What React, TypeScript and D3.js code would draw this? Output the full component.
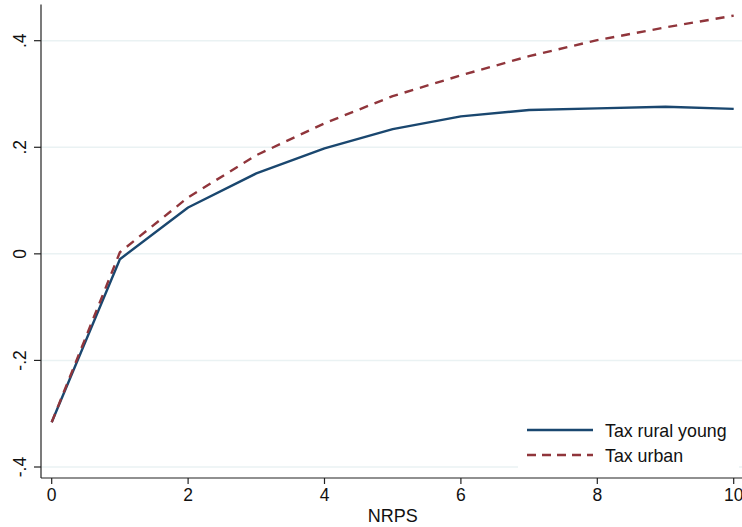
import React, { useRef, useEffect } from "react";
import * as d3 from "d3";

const nrps = [0, 1, 2, 3, 4, 5, 6, 7, 8, 9, 10];
const taxRuralYoung = [-0.316, -0.01, 0.087, 0.151, 0.198, 0.234, 0.258, 0.27, 0.273, 0.276, 0.272];
const taxUrban = [-0.316, 0.003, 0.106, 0.185, 0.245, 0.296, 0.335, 0.371, 0.401, 0.425, 0.447];
const xTicks = [0, 2, 4, 6, 8, 10];
const yTicks = [-0.4, -0.2, 0, 0.2, 0.4];
const yTickLabels = ["-.4", "-.2", "0", ".2", ".4"];

const series = [
  { name: "Tax rural young", values: taxRuralYoung, color: "#1a476f", dash: null },
  { name: "Tax urban", values: taxUrban, color: "#90353b", dash: "9,7" },
];

const W = 742;
const H = 527;
const FONT = "'Liberation Sans', Arial, sans-serif";

const App = () => {
  const ref = useRef<SVGSVGElement>(null);

  useEffect(() => {
    document.body.style.margin = "0";
    const svg = d3.select(ref.current);
    svg.selectAll("*").remove();

    const axisLeftX = 41;
    const axisBottomY = 478;
    const x = d3.scaleLinear().domain([0, 10]).range([51.7, 733.7]);
    const y = d3.scaleLinear().domain([-0.4, 0.4]).range([467, 40.7]);

    svg.append("rect").attr("width", W).attr("height", H).attr("fill", "#fff");

    // gridlines
    svg
      .selectAll(".grid")
      .data(yTicks)
      .enter()
      .append("line")
      .attr("x1", axisLeftX)
      .attr("x2", W)
      .attr("y1", (d) => y(d))
      .attr("y2", (d) => y(d))
      .attr("stroke", "#eaf2f3")
      .attr("stroke-width", 1.5);

    // lines
    const line = d3
      .line<number>()
      .x((_, i) => x(nrps[i]))
      .y((d) => y(d));

    series.forEach((s) => {
      svg
        .append("path")
        .datum(s.values)
        .attr("d", line)
        .attr("fill", "none")
        .attr("stroke", s.color)
        .attr("stroke-width", 2.4)
        .attr("stroke-dasharray", s.dash)
        .attr("stroke-linejoin", "round");
    });

    // axes
    svg
      .append("line")
      .attr("x1", axisLeftX)
      .attr("x2", axisLeftX)
      .attr("y1", 4.5)
      .attr("y2", axisBottomY)
      .attr("stroke", "#222")
      .attr("stroke-width", 1.2);
    svg
      .append("line")
      .attr("x1", axisLeftX)
      .attr("x2", W)
      .attr("y1", axisBottomY)
      .attr("y2", axisBottomY)
      .attr("stroke", "#222")
      .attr("stroke-width", 1.2);

    // y ticks
    const yt = svg.selectAll(".yt").data(yTicks).enter().append("g");
    yt.append("line")
      .attr("x1", axisLeftX - 7)
      .attr("x2", axisLeftX)
      .attr("y1", (d) => y(d))
      .attr("y2", (d) => y(d))
      .attr("stroke", "#222")
      .attr("stroke-width", 1.2);
    yt.append("text")
      .attr("transform", (d) => `translate(26,${y(d)}) rotate(-90)`)
      .attr("text-anchor", "middle")
      .style("font-family", FONT)
      .style("font-size", "17.5px")
      .style("fill", "#111")
      .text((_, i) => yTickLabels[i]);

    // x ticks
    const xt = svg.selectAll(".xt").data(xTicks).enter().append("g");
    xt.append("line")
      .attr("x1", (d) => x(d))
      .attr("x2", (d) => x(d))
      .attr("y1", axisBottomY)
      .attr("y2", axisBottomY + 6)
      .attr("stroke", "#222")
      .attr("stroke-width", 1.2);
    xt.append("text")
      .attr("x", (d) => x(d))
      .attr("y", 501)
      .attr("text-anchor", "middle")
      .style("font-family", FONT)
      .style("font-size", "17.5px")
      .style("fill", "#111")
      .text((d) => d);

    svg
      .append("text")
      .attr("x", x(5))
      .attr("y", 521.5)
      .attr("text-anchor", "middle")
      .style("font-family", FONT)
      .style("font-size", "18px")
      .style("fill", "#111")
      .text("NRPS");

    // legend
    const lg = svg.append("g");
    lg.append("rect")
      .attr("x", 518)
      .attr("y", 414)
      .attr("width", 221)
      .attr("height", 58)
      .attr("fill", "#fff");
    series.forEach((s, i) => {
      const ly = 430 + i * 25;
      lg.append("line")
        .attr("x1", 527)
        .attr("x2", 593)
        .attr("y1", ly)
        .attr("y2", ly)
        .attr("stroke", s.color)
        .attr("stroke-width", 2.4)
        .attr("stroke-dasharray", s.dash ? "9,6" : null);
      lg.append("text")
        .attr("x", 605)
        .attr("y", ly + 6.5)
        .style("font-family", FONT)
        .style("font-size", "17.8px")
        .style("fill", "#111")
        .text(s.name);
    });
  }, []);

  return <svg ref={ref} width={W} height={H} style={{ display: "block" }} />;
};

export default App;
